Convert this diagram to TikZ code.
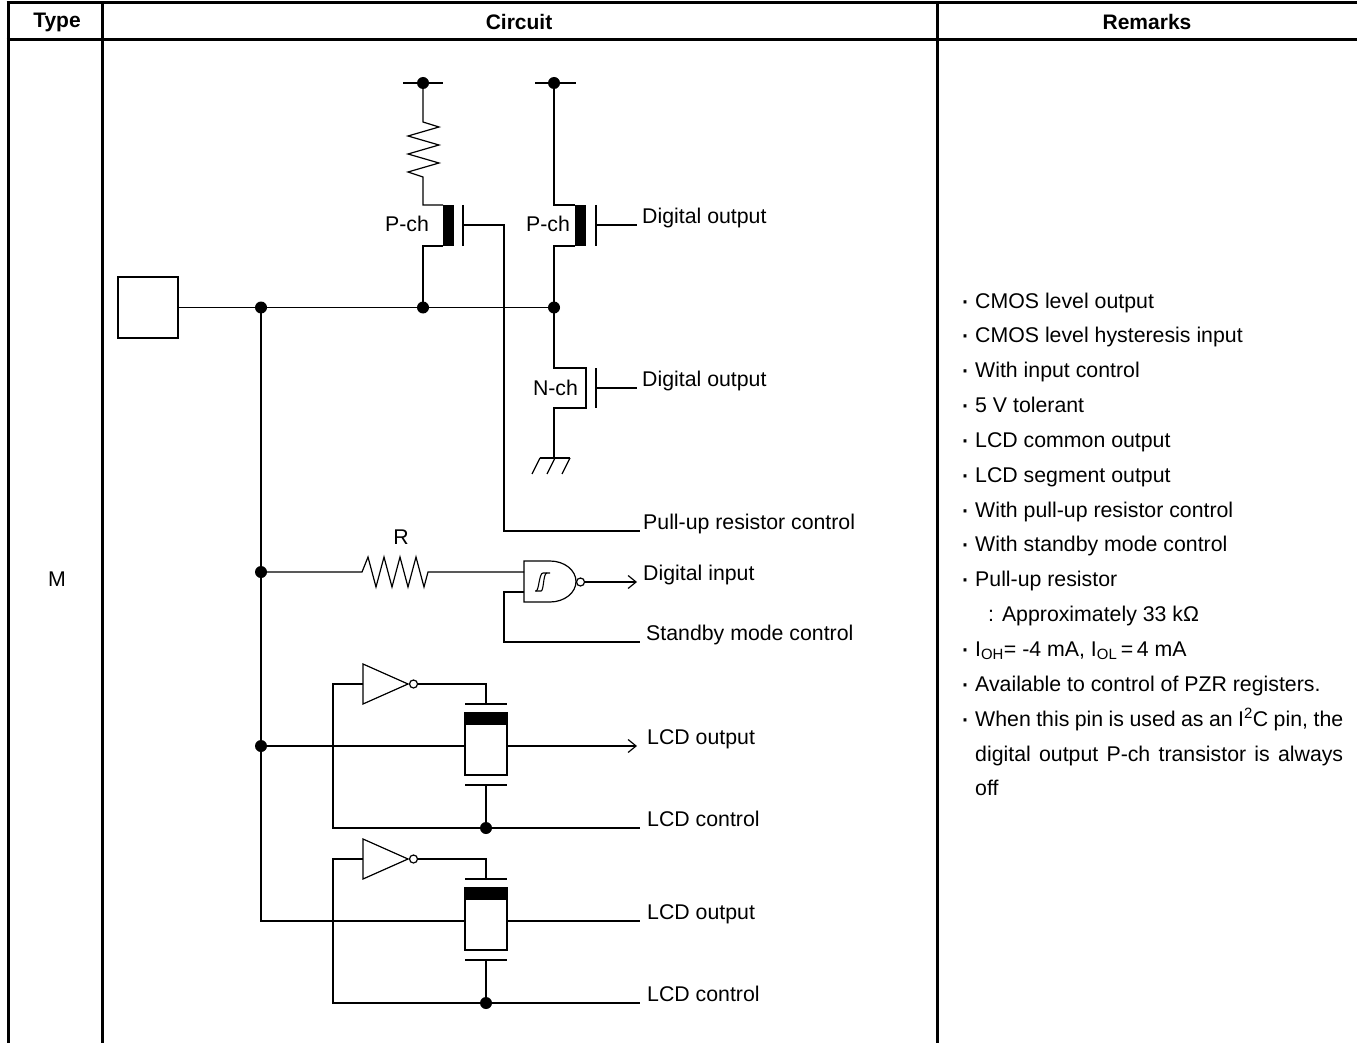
\documentclass[tikz,border=0pt]{standalone}
\usepackage{fontspec}
\setmainfont{Liberation Sans}
\usetikzlibrary{arrows.meta}
\begin{document}
\begin{tikzpicture}[x=1pt,y=-1pt,
  wire/.style={line width=1.2pt,line join=miter},
  tline/.style={line width=3pt},
  lbl/.style={anchor=base west,inner sep=0pt,font=\fontsize{21.3}{25}\selectfont},
  clbl/.style={inner sep=0pt,font=\fontsize{21.3}{25}\selectfont},
  hdr/.style={inner sep=0pt,font=\fontsize{21}{25}\selectfont\bfseries},
  bul/.style={anchor=base,inner sep=0pt,font=\fontsize{30}{30}\selectfont},
  jdot/.style={circle,fill=black,inner sep=0pt,minimum size=12pt},
  bubble/.style={circle,draw,line width=1.2pt,fill=white,inner sep=0pt,minimum size=8pt},
  openarrow/.style={-{Straight Barb[length=8pt,width=13pt,line width=1.2pt]}},
  chbar/.style={fill=black}
]
\useasboundingbox (0,0) rectangle (1357,1043);
% ---------------- table ----------------
\draw[tline] (6.5,3) -- (1357,3);
\draw[tline] (6.5,40) -- (1357,40);
\draw[tline] (8,1.5) -- (8,1043);
\draw[tline] (102,3) -- (102,1043);
\draw[tline] (937,3) -- (937,1043);
\node[hdr] (hType) at (57,22) {Type};
\node[hdr] (hCirc) at (519,22) {Circuit};
\node[hdr] (hRem) at (1147,22) {Remarks};
\node[clbl] (typeM) at (57,579) {M};

% ---------------- pad and main line ----------------
\node[draw,line width=1.2pt,minimum width=60pt,minimum height=61pt,inner sep=0pt] (pad) at (148,307.5) {};
\coordinate (j1) at (261,307.5);
\coordinate (j2) at (423,307.5);
\coordinate (j3) at (554,307.5);
\draw[wire] (pad.east) -- (j3);

% ---------------- pull-up P-ch ----------------
\coordinate (vdd1) at (423,83);
\draw[wire] (403,83) -- (443,83);
\draw[wire] (vdd1) -- (423,122) -- (439,127) -- (408,136) -- (439,145) -- (408,154) -- (439,163) -- (408,172) -- (423,177) -- (423,205) -- (443,205);
\fill[chbar] (443,205) rectangle (454,246);
\draw[wire] (443,246) -- (423,246) -- (j2);
\draw[wire] (463,205) -- (463,246);
\coordinate (puc) at (640,531);
\draw[wire] (463,225) -- (504,225) -- (504,531) -- (puc);
\node[clbl] (pch1) at (407,224) {P-ch};

% ---------------- output P-ch ----------------
\coordinate (vdd2) at (554,83);
\draw[wire] (535,83) -- (576,83);
\draw[wire] (vdd2) -- (554,205) -- (575,205);
\fill[chbar] (575,205) rectangle (586,246);
\draw[wire] (575,246) -- (554,246) -- (j3);
\draw[wire] (596,205) -- (596,246);
\coordinate (pg) at (637,225);
\draw[wire] (596,225) -- (pg);
\node[clbl] (pch2) at (548,224) {P-ch};
\node[lbl] (dout1) at (642,223) {Digital output};

% ---------------- output N-ch ----------------
\coordinate (gnd) at (554,458);
\draw[wire] (j3) -- (554,368) -- (586,368) -- (586,408) -- (554,408) -- (gnd);
\draw[wire] (596,368) -- (596,408);
\coordinate (ng) at (637,388);
\draw[wire] (596,388) -- (ng);
\node[clbl] (nch) at (555.5,388) {N-ch};
\node[lbl] (dout2) at (642,386) {Digital output};
\draw[wire] (540,458) -- (570,458);
\draw[wire] (532,474) -- (540,458);
\draw[wire] (547,474) -- (555,458);
\draw[wire] (562,474) -- (570,458);

\node[lbl] (pulbl) at (643,529) {Pull-up resistor control};

% ---------------- input path ----------------
\coordinate (j4) at (261,572);
\draw[wire] (j4) -- (362,572) -- (368,557) -- (376,587) -- (384,557) -- (392,587) -- (400,557) -- (408,587) -- (416,557) -- (424,587) -- (428,572) -- (524,572);
\node[clbl] (rlbl) at (401,537) {R};
\draw[wire] (524,561) -- (550,561) arc[start angle=-90,end angle=90,x radius=26,y radius=20.5] -- (524,602) -- cycle;
\draw[line width=1.1pt] (535,591) -- (541,591) .. controls (544,591) and (543,573) .. (547,573) -- (550,573);
\draw[line width=1.1pt] (536,591) .. controls (539,591) and (539,573) .. (543,573) -- (547,573);
\node[bubble] (nb) at (580.5,582) {};
\coordinate (din) at (637,582);
\draw[wire,openarrow] (nb.east) -- (din);
\node[lbl] (dinl) at (643,580) {Digital input};
\coordinate (stb) at (640,642);
\draw[wire] (524,592) -- (504,592) -- (504,642) -- (stb);
\node[lbl] (stbl) at (646,640) {Standby mode control};

% ---------------- LCD 1 ----------------
\coordinate (j5) at (261,746);
\draw[wire] (363,664) -- (408,684) -- (363,704) -- cycle;
\node[bubble] (ib1) at (413.5,684) {};
\draw[wire] (ib1.east) -- (486,684) -- (486,704);
\draw[wire] (465,704) -- (507,704);
\draw[wire,fill=white] (465,713) rectangle (507,775);
\fill (465,713) rectangle (507,725);
\draw[wire] (465,785) -- (507,785);
\coordinate (c1) at (486,828);
\draw[wire] (486,785) -- (c1);
\draw[wire] (363,684) -- (333,684) -- (333,828) -- (640,828);
\draw[wire] (j5) -- (465,746);
\coordinate (lo1) at (637,746);
\draw[wire,openarrow] (507,746) -- (lo1);
\node[lbl] (lo1l) at (647,744) {LCD output};
\node[lbl] (lc1l) at (647,826) {LCD control};

% ---------------- LCD 2 ----------------
\draw[wire] (363,839) -- (408,859) -- (363,879) -- cycle;
\node[bubble] (ib2) at (413.5,859) {};
\draw[wire] (ib2.east) -- (486,859) -- (486,879);
\draw[wire] (465,879) -- (507,879);
\draw[wire,fill=white] (465,888) rectangle (507,950);
\fill (465,888) rectangle (507,900);
\draw[wire] (465,960) -- (507,960);
\coordinate (c2) at (486,1003);
\draw[wire] (486,960) -- (c2);
\draw[wire] (363,859) -- (333,859) -- (333,1003) -- (640,1003);
\draw[wire] (j1) -- (261,921) -- (465,921);
\draw[wire] (507,921) -- (640,921);
\node[lbl] (lo2l) at (647,919) {LCD output};
\node[lbl] (lc2l) at (647,1001) {LCD control};

% ---------------- dots ----------------
\foreach \p in {vdd1,vdd2,j1,j2,j3,j4,j5,c1,c2} \node[jdot] at (\p) {};

% ---------------- remarks ----------------
\foreach \k in {0,1,2,3,4,5,6,7,8,10,11,12}
  \node[bul] (b\k) at (965,310+34.85*\k) {·};
\node[lbl] (r0) at (975,308) {CMOS level output};
\node[lbl] (r1) at (975,342.85) {CMOS level hysteresis input};
\node[lbl] (r2) at (975,377.7) {With input control};
\node[lbl] (r3) at (975,412.55) {5 V tolerant};
\node[lbl] (r4) at (975,447.4) {LCD common output};
\node[lbl] (r5) at (975,482.25) {LCD segment output};
\node[lbl] (r6) at (975,517.1) {With pull-up resistor control};
\node[lbl] (r7) at (975,551.95) {With standby mode control};
\node[lbl] (r8) at (975,586.8) {Pull-up resistor};
\node[lbl] (r9) at (988,621.65) {: Approximately 33 kΩ};
\node[lbl] (r10) at (975,656.5) {I\textsubscript{OH}= -4 mA, I\textsubscript{OL}\,=\,4 mA};
\node[lbl] (r11) at (975,691.35) {Available to control of PZR registers.};
\node[lbl] (r12) at (975,726.2) {\makebox[368pt][s]{When this pin is used as an I\textsuperscript{2}C pin, the}};
\node[lbl] (r13) at (975,761.05) {\makebox[368pt][s]{digital output P-ch transistor is always}};
\node[lbl] (r14) at (975,795.9) {off};
\end{tikzpicture}
\end{document}
